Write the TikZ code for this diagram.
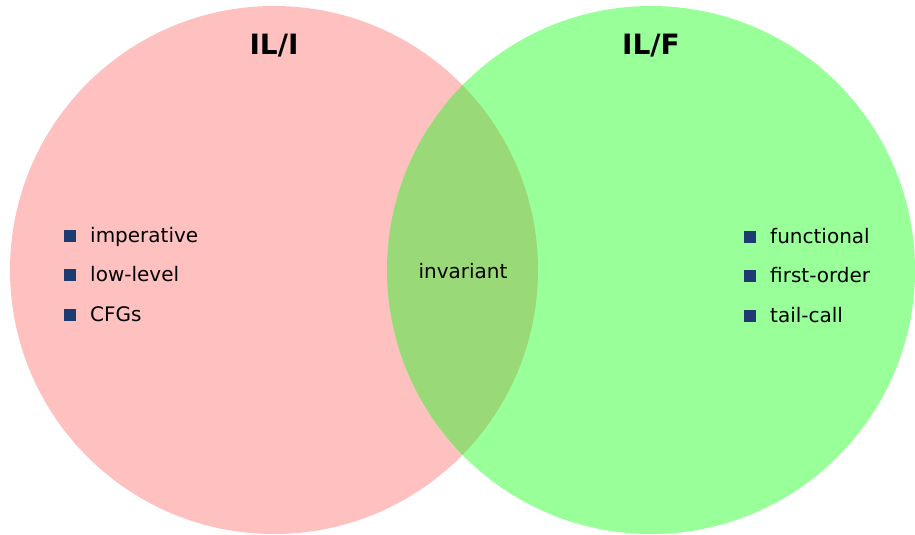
\documentclass[tikz,border=0pt]{standalone}
\usepackage{fontspec}
\setmainfont{DejaVu Sans}
\definecolor{pinkc}{RGB}{255,192,192}
\definecolor{greenc}{RGB}{153,255,153}
\definecolor{overc}{RGB}{154,217,119}
\definecolor{bulletc}{RGB}{30,58,112}
\begin{document}
\begin{tikzpicture}[x={(1pt,0)},y={(0,-1pt)},
  title/.style={font=\fontsize{28}{32}\selectfont\bfseries, text=black},
  item/.style={font=\fontsize{20}{24}\selectfont, anchor=base west, inner sep=0pt},
  bul/.style={fill=bulletc, minimum size=12pt, inner sep=0pt}]
\useasboundingbox (0,0) rectangle (915,535);
\fill[pinkc] (274,270) circle[radius=264pt];
\fill[greenc] (651,270) circle[radius=264pt];
\begin{scope}
  \clip (274,270) circle[radius=264pt];
  \fill[overc] (651,270) circle[radius=264pt];
\end{scope}
\node[title] (t1) at (274,46) {IL/I};
\node[title] (t2) at (651,46) {IL/F};
\node[font=\fontsize{20}{24}\selectfont] (inv) at (463,271) {invariant};
\node[bul] (b1) at (70,236) {};
\node[bul] (b2) at (70,275) {};
\node[bul] (b3) at (70,315) {};
\node[item] (i1) at (90,242) {imperative};
\node[item] (i2) at (90,281) {low-level};
\node[item] (i3) at (90,321) {CFGs};
\node[bul] (b4) at (750,237) {};
\node[bul] (b5) at (750,276) {};
\node[bul] (b6) at (750,316) {};
\node[item] (i4) at (770,243) {functional};
\node[item] (i5) at (770,282) {first-order};
\node[item] (i6) at (770,322) {tail-call};
\end{tikzpicture}
\end{document}
